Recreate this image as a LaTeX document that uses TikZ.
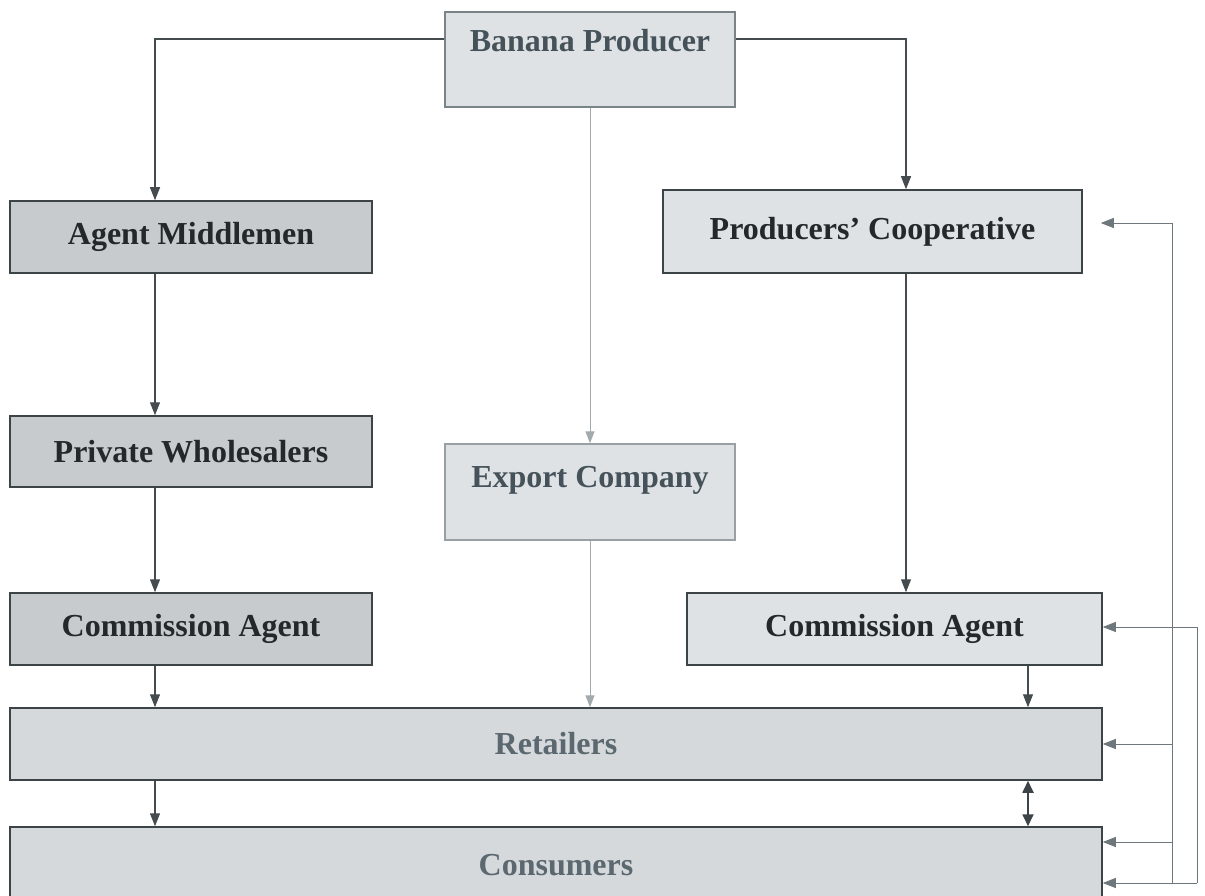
\documentclass[tikz,border=0pt]{standalone}
\usepackage{fontspec}
\setmainfont{Liberation Serif}
\usetikzlibrary{arrows.meta,calc}
\definecolor{darkfill}{HTML}{C8CBCD}
\definecolor{lightfill}{HTML}{DEE2E5}
\definecolor{midfill}{HTML}{D5D9DC}
\definecolor{edgecol}{HTML}{3C4448}
\definecolor{softedge}{HTML}{7A8388}
\definecolor{faintedge}{HTML}{98A0A4}
\definecolor{darktext}{HTML}{23282B}
\definecolor{lighttext}{HTML}{46525A}
\definecolor{greytext}{HTML}{5C6870}
\definecolor{linecol}{HTML}{454C50}
\definecolor{buscol}{HTML}{6E777C}
\definecolor{paleline}{HTML}{A3AAAE}
\tikzset{
  basebox/.style={rectangle, inner sep=0pt, line width=1.5pt, draw=edgecol,
    font=\fontsize{32}{36}\selectfont\bfseries},
  darkbox/.style={basebox, fill=darkfill, text=darktext},
  lightbox/.style={basebox, fill=lightfill, text=lighttext},
  widebox/.style={basebox, fill=midfill, text=greytext, minimum width=1092pt, minimum height=72pt},
  conn/.style={draw=linecol, line width=1.1pt, -{Triangle[length=13pt,width=10pt]}},
  busline/.style={draw=buscol, line width=0.9pt},
  busconn/.style={draw=buscol, line width=0.9pt, -{Triangle[length=13pt,width=10pt]}},
  paleconn/.style={draw=paleline, line width=1pt, -{Triangle[length=12pt,width=9pt]}},
  dblconn/.style={draw=edgecol, line width=1.8pt, {Triangle[length=12pt,width=11pt]}-{Triangle[length=12pt,width=11pt]}}
}
\begin{document}
\begin{tikzpicture}[x=1pt,y=-1pt]
\useasboundingbox (0,0) rectangle (1205,896);
% boxes
\node[lightbox, draw=softedge, minimum width=290pt, minimum height=95pt, text height=40pt, text depth=55pt] (bp) at (590,59.5) {Banana Producer};
\node[darkbox, minimum width=362pt, minimum height=72pt] (am) at (191,237) {Agent Middlemen};
\node[darkbox, minimum width=362pt, minimum height=71pt] (pw) at (191,451.5) {Private Wholesalers};
\node[darkbox, minimum width=362pt, minimum height=72pt] (cal) at (191,629) {Commission Agent};
\node[lightbox, draw=faintedge, minimum width=290pt, minimum height=96pt, text height=43pt, text depth=53pt] (ex) at (590,492) {Export Company};
\node[lightbox, text=darktext, minimum width=419pt, minimum height=83pt] (pc) at (872.5,231.5) {Producers’ Cooperative};
\node[lightbox, text=darktext, minimum width=415pt, minimum height=72pt] (car) at (894.5,629) {Commission Agent};
\node[widebox] (ret) at (556,744) {Retailers};
\node[widebox, minimum height=76pt] (con) at (556,865) {Consumers};
% helper coordinates
\coordinate (colL) at (155,0);
\coordinate (colR) at (906,0);
\coordinate (colD) at (1028,0);
\coordinate (b1top) at (1172,223);
\coordinate (b1bot) at (1172,883);
\coordinate (c1) at (1172,842);
\coordinate (b2top) at (1197,627);
\coordinate (b2bot) at (1197,883);
% left column
\draw[conn] ([yshift=20.5pt]bp.west) -| (am.north -| colL);
\draw[conn] (am.south -| colL) -- (pw.north -| colL);
\draw[conn] (pw.south -| colL) -- (cal.north -| colL);
\draw[conn] (cal.south -| colL) -- (ret.north -| colL);
\draw[conn] (ret.south -| colL) -- (con.north -| colL);
% middle
\draw[paleconn] (bp.south) -- (ex.north);
\draw[paleconn] (ex.south) -- (ex.south |- ret.north);
% right column
\draw[conn] ([yshift=20.5pt]bp.east) -| (pc.north -| colR);
\draw[conn] (pc.south -| colR) -- (car.north -| colR);
\draw[conn] (car.south -| colD) -- (ret.north -| colD);
\draw[dblconn] (ret.south -| colD) -- (con.north -| colD);
% right bus
\draw[busline] (b1bot) -- (b1top);
\draw[busconn, shorten >=18pt] (b1top) -- (b1top -| pc.east);
\draw[busconn] (b1top |- ret.east) -- (ret.east);
\draw[busconn] (c1) -- (c1 -| con.east);
\draw[busline] (b2bot) -- (b2top);
\draw[busconn] (b2top) -- (b2top -| car.east);
\draw[busconn] (b2bot) -- (b2bot -| con.east);
\end{tikzpicture}
\end{document}
